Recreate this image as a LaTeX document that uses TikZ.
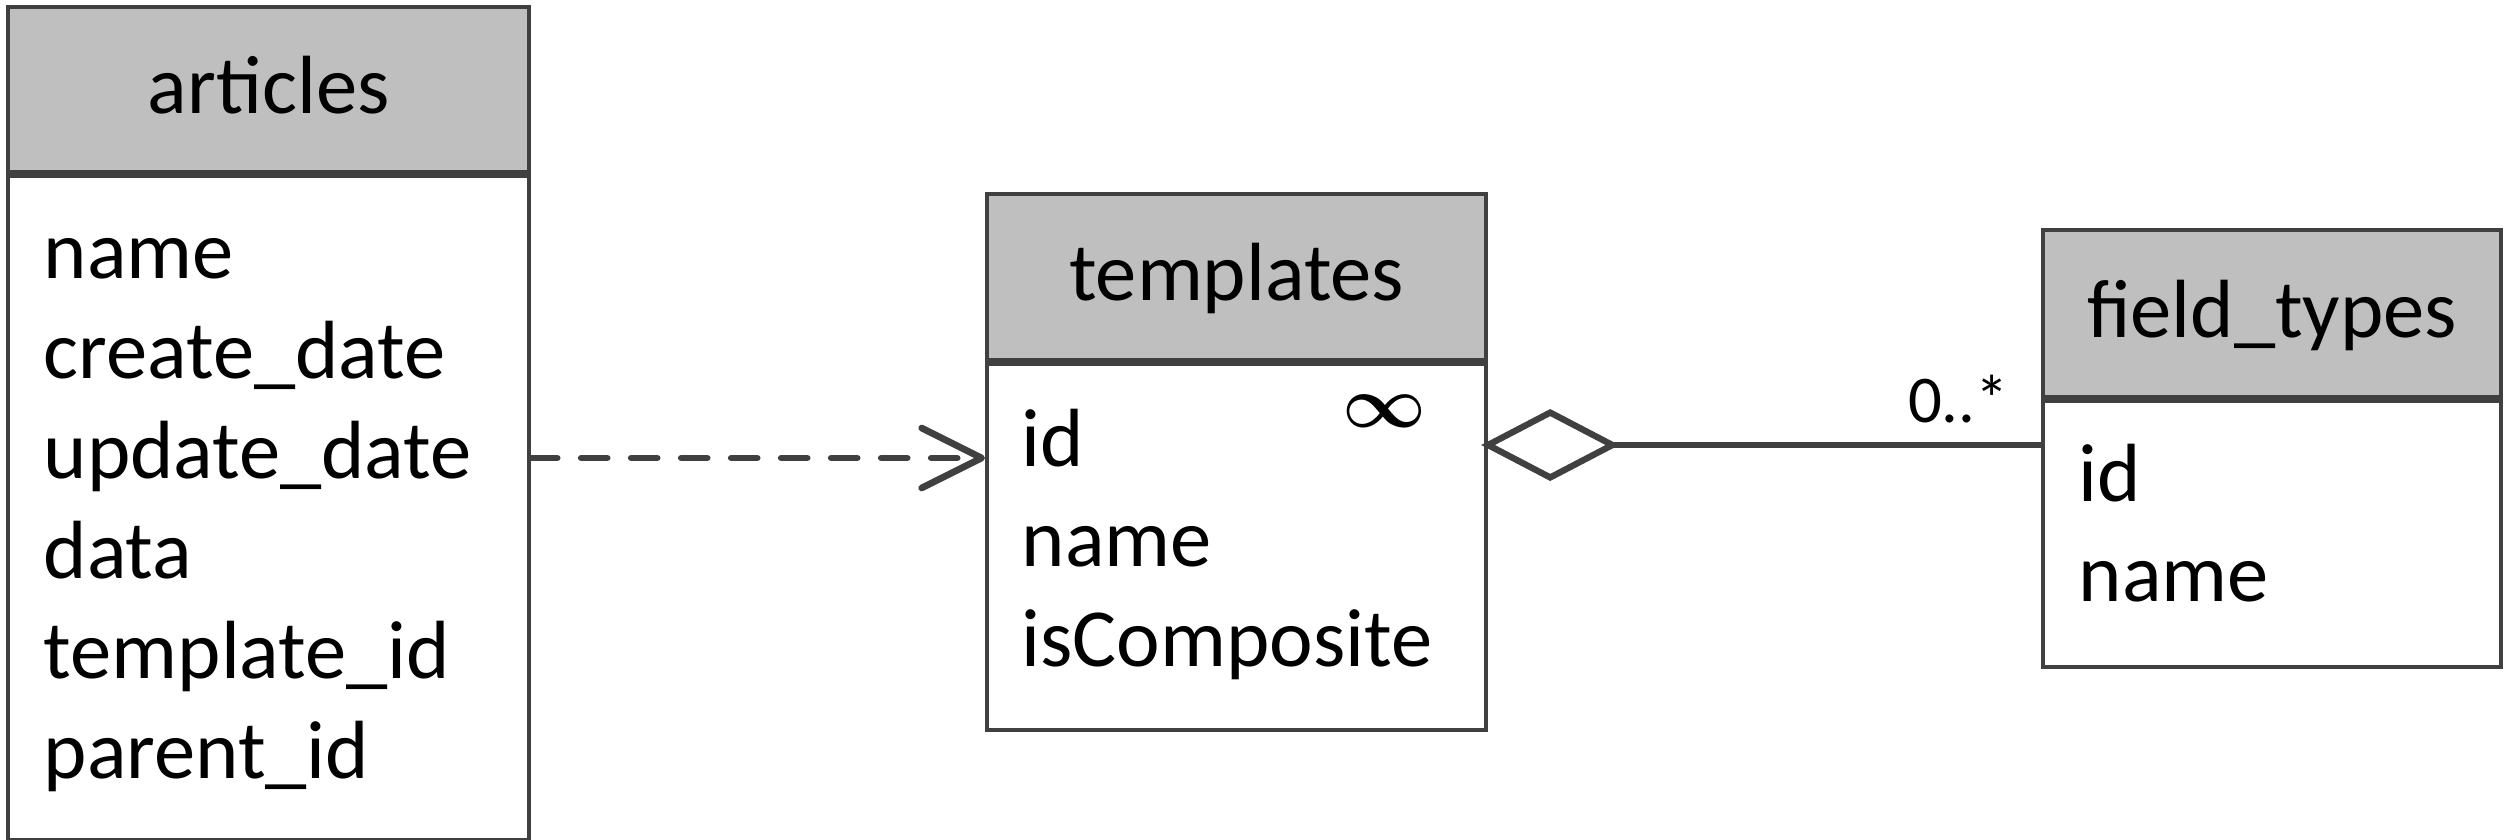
\documentclass[tikz,border=0pt]{standalone}
\usepackage{fontspec}
\setmainfont{Carlito}
\usepackage{xcolor}
\usepackage{tikz}
\usetikzlibrary{arrows.meta,positioning}
\definecolor{linegray}{HTML}{404040}
\definecolor{headgray}{HTML}{BFBFBF}

\begin{document}
\begin{tikzpicture}[
x=1cm,y=1cm,
tblhead/.style={draw=linegray, line width=1.2pt, fill=headgray, inner sep=0pt, text height=17pt, text depth=3.6pt, font=\fontsize{23.5pt}{28pt}\selectfont},
tblbody/.style={draw=linegray, line width=1.2pt, fill=white, inner sep=0pt},
attr/.style={anchor=base west, inner sep=0pt, font=\fontsize{23.5pt}{28pt}\selectfont},
keysym/.style={inner sep=0pt, font=\fontsize{21.5pt}{21.5pt}\selectfont\boldmath},
dep/.style={draw=linegray, line width=1.9pt, dash pattern=on 0.26cm off 0.24cm, line cap=round, -{Straight Barb[length=0.6cm,width=0.6cm,round]}},
agg/.style={draw=linegray, line width=1.8pt, {Diamond[open,length=1.38cm,width=0.72cm]}-, shorten <=-0.07cm},
mult/.style={font=\fontsize{19pt}{22pt}\selectfont, inner sep=0pt}
]
\useasboundingbox (0,0) rectangle (25.07,-8.39);

% articles
\node[tblhead, minimum width=5.21cm, minimum height=1.65cm, anchor=north west] (art) at (0.06,-0.05) {articles};
\node[tblbody, minimum width=5.21cm, minimum height=6.64cm, anchor=north] (artbody) at (art.south) {};
\foreach \txt [count=\i] in {name,create\_date,update\_date,data,template\_id,parent\_id}
  \node[attr] (art-\i) at (0.43,{-1.78-\i}) {\txt};

% templates
\node[tblhead, minimum width=4.99cm, minimum height=1.66cm, anchor=north west] (tpl) at (9.85,-1.92) {templates};
\node[tblbody, minimum width=4.99cm, minimum height=3.66cm, anchor=north] (tplbody) at (tpl.south) {};
\foreach \txt [count=\i] in {id,name,isComposite}
  \node[attr] (tpl-\i) at (10.21,{-3.66-\i}) {\txt};
\node[keysym] (tplkey) at (13.84,-4.11) {$\infty$};

% field_types
\node[tblhead, minimum width=4.58cm, minimum height=1.67cm, anchor=north west] (fld) at (20.41,-2.28) {field\_types};
\node[tblbody, minimum width=4.58cm, minimum height=2.66cm, anchor=north] (fldbody) at (fld.south) {};
\foreach \txt [count=\i] in {id,name}
  \node[attr] (fld-\i) at (20.78,{-4.01-\i}) {\txt};

% connectors
\coordinate (depy) at ([yshift=0.2cm]art-3.base);
\coordinate (aggy) at ([yshift=0.21cm]tpl-1.base);
\draw[dep] (artbody.east |- depy) -- (tplbody.west |- depy);
\draw[agg] (tplbody.east |- aggy) -- (fldbody.west |- aggy)
  node[mult, anchor=base east, xshift=-0.29cm, yshift=0.23cm] (card) {0..*};
\end{tikzpicture}
\end{document}
